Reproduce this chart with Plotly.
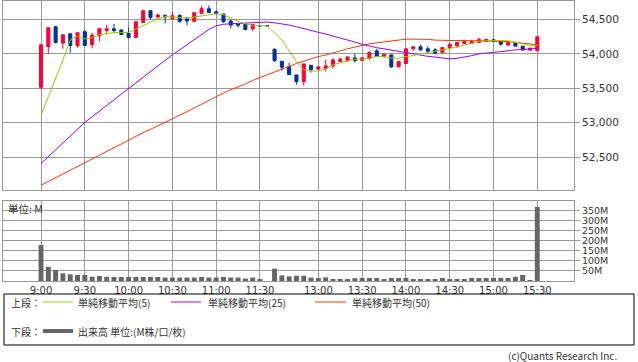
import plotly.graph_objects as go

# ---------------- data ----------------
tick_pos = [0, 6, 12, 18, 24, 30, 38, 44, 50, 56, 62, 68]
tick_labels = ["9:00", "9:30", "10:00", "10:30", "11:00", "11:30",
               "13:00", "13:30", "14:00", "14:30", "15:00", "15:30"]

opens = [53514, 54106, 54394, 54156, 54292, 54117, 54321, 54136, 54262, 54340,
         54365, 54346, 54296, 54238, 54456, 54627, 54535, 54558, 54510, 54558,
         54510, 54471, 54588, 54656, 54612, 54579, 54477, 54433, 54433, 54365,
         54408, 54410, 54068, 53893, 53815, 53694, 53596, 53835, 53781, 53786,
         53825, 53888, 53898, 53942, 53905, 53937, 54044, 53961, 53985, 53810,
         53859, 54073, 54102, 54073, 54058, 54019, 54092, 54117, 54150, 54150,
         54165, 54179, 54204, 54179, 54127, 54156, 54112, 54054, 54048]
highs = [54141, 54385, 54408, 54277, 54292, 54306, 54346, 54306, 54379, 54423,
         54437, 54360, 54383, 54467, 54641, 54627, 54583, 54573, 54608, 54578,
         54535, 54612, 54700, 54704, 54627, 54579, 54496, 54433, 54433, 54427,
         54408, 54410, 54077, 53893, 53873, 53694, 53854, 53835, 53825, 53913,
         53937, 53946, 53956, 54004, 53951, 54044, 54073, 53996, 53985, 53898,
         54073, 54112, 54131, 54107, 54083, 54092, 54141, 54165, 54204, 54204,
         54238, 54223, 54219, 54179, 54165, 54156, 54112, 54083, 54248]
lows = [53485, 53996, 54150, 54073, 54019, 54092, 54117, 54077, 54179, 54281,
        54302, 54273, 54223, 54238, 54456, 54496, 54525, 54442, 54496, 54456,
        54413, 54471, 54588, 54602, 54583, 54452, 54369, 54383, 54340, 54331,
        54408, 54406, 53883, 53757, 53698, 53552, 53538, 53727, 53757, 53742,
        53786, 53888, 53898, 53873, 53898, 53908, 53961, 53942, 53800, 53810,
        53859, 54044, 54044, 54010, 53996, 54019, 54092, 54083, 54150, 54150,
        54165, 54179, 54179, 54117, 54127, 54112, 54044, 54054, 54048]
closes = [54131, 54379, 54165, 54277, 54121, 54306, 54121, 54273, 54365, 54365,
          54340, 54281, 54238, 54467, 54627, 54529, 54564, 54535, 54554, 54471,
          54476, 54598, 54656, 54602, 54583, 54467, 54418, 54418, 54354, 54427,
          54408, 54406, 53902, 53806, 53698, 53596, 53854, 53771, 53810, 53825,
          53912, 53923, 53956, 53905, 53942, 54019, 53961, 53996, 53810, 53888,
          54073, 54102, 54058, 54039, 54010, 54092, 54141, 54165, 54179, 54179,
          54208, 54208, 54179, 54141, 54165, 54112, 54058, 54083, 54248]

ma5 = [53110, 53373, 53636, 53912, 54204, 54262, 54219, 54233, 54277, 54296,
       54310, 54310, 54310, 54360, 54412, 54467, 54510, 54544, 54535, 54520,
       54520, 54535, 54554, 54573, 54583, 54569, 54520, 54471, 54437, 54408,
       54408, 54408, 54302, 54204, 54044, 53883, 53767, 53748, 53752, 53781,
       53840, 53873, 53898, 53923, 53923, 53937, 53961, 53961, 53937, 53937,
       53956, 53981, 53996, 54010, 54036, 54058, 54077, 54102, 54131, 54156,
       54179, 54190, 54194, 54194, 54190, 54171, 54146, 54124, 54121]
ma25 = [52406, 52506, 52605, 52705, 52804, 52904, 53004, 53087, 53170, 53254,
        53335, 53418, 53500, 53582, 53662, 53743, 53824, 53905, 53985, 54061,
        54137, 54211, 54284, 54353, 54408, 54430, 54437, 54442, 54448, 54452,
        54459, 54462, 54452, 54437, 54418, 54394, 54365, 54335, 54313, 54289,
        54262, 54233, 54204, 54171, 54139, 54112, 54090, 54073, 54054, 54036,
        54019, 54000, 53978, 53964, 53953, 53942, 53927, 53934, 53952, 53974,
        54000, 54015, 54022, 54032, 54047, 54058, 54063, 54069, 54080]
ma50 = [52090, 52145, 52201, 52256, 52312, 52367, 52421, 52476, 52533, 52589,
        52644, 52701, 52756, 52806, 52855, 52904, 52953, 53003, 53052, 53106,
        53160, 53214, 53270, 53323, 53377, 53431, 53479, 53519, 53563, 53614,
        53653, 53694, 53742, 53774, 53818, 53861, 53898, 53934, 53961, 53983,
        54015, 54044, 54073, 54099, 54124, 54146, 54160, 54175, 54190, 54204,
        54214, 54214, 54214, 54211, 54200, 54194, 54194, 54194, 54194, 54194,
        54194, 54194, 54187, 54179, 54179, 54168, 54153, 54141, 54131]

volume_m = [178, 70, 54, 38, 33, 30, 30, 21, 25, 21,
            20, 20, 20, 20, 20, 20, 20, 17, 17, 17,
            17, 17, 20, 17, 17, 20, 17, 17, 12, 17,
            5, 0, 61, 28, 23, 26, 26, 17, 15, 18,
            10, 10, 10, 14, 15, 15, 15, 10, 15, 15,
            15, 10, 10, 10, 10, 15, 10, 10, 10, 15,
            15, 15, 15, 15, 15, 21, 30, 4, 367]

price_ticks = [52500, 53000, 53500, 54000, 54500]
vol_ticks = [50, 100, 150, 200, 250, 300, 350]

x = list(range(len(closes)))

# ---------------- geometry helpers (pixel -> paper) ----------------
W, H = 638, 362
ML, MR, MT, MB = 3, 64, 1, 81
PW, PH = W - ML - MR, H - MT - MB


def px(v):
    return (v - ML) / PW


def py(v):
    return (H - MB - v) / PH


GRID = "#999999"
TXT = "#333333"

fig = go.Figure()

fig.add_trace(go.Candlestick(
    x=x, open=opens, high=highs, low=lows, close=closes,
    increasing=dict(line=dict(color="#ff0033", width=1), fillcolor="#ff0033"),
    decreasing=dict(line=dict(color="#003399", width=1), fillcolor="#003399"),
    whiskerwidth=0, xaxis="x", yaxis="y", showlegend=False, hoverinfo="skip"))

fig.add_trace(go.Scatter(x=x, y=ma50, mode="lines", line=dict(color="#ff3300", width=1),
                         xaxis="x", yaxis="y", showlegend=False))
fig.add_trace(go.Scatter(x=x, y=ma25, mode="lines", line=dict(color="#9900ff", width=1),
                         xaxis="x", yaxis="y", showlegend=False))
fig.add_trace(go.Scatter(x=x, y=ma5, mode="lines", line=dict(color="#99cc00", width=1),
                         xaxis="x", yaxis="y", showlegend=False))

fig.add_trace(go.Bar(x=x, y=volume_m, width=0.68, marker=dict(color="#666666", line=dict(width=0)),
                     xaxis="x2", yaxis="y2", showlegend=False))

xr = [-5.21, 73.03]
axis_common = dict(showline=True, mirror=True, linecolor=GRID, linewidth=1,
                   showgrid=True, gridcolor=GRID, gridwidth=1, zeroline=False)

fig.update_layout(
    width=W, height=H,
    margin=dict(l=ML, r=MR, t=MT, b=MB),
    paper_bgcolor="white", plot_bgcolor="white",
    boxgap=0.4,
    showlegend=False,
    font=dict(family="DejaVu Sans", color=TXT, size=10),
    xaxis=dict(domain=[0, 1], range=xr, anchor="y", tickvals=tick_pos, ticktext=tick_labels,
               showticklabels=False, ticks="", rangeslider=dict(visible=False), **axis_common),
    yaxis=dict(domain=[py(190), 1], range=[52022, 54768], side="right", tickvals=price_ticks,
               ticktext=[f"{v:,}" for v in price_ticks], ticks="outside", ticklen=5,
               tickcolor=GRID, tickfont=dict(size=10.5, color=TXT), **axis_common),
    xaxis2=dict(domain=[0, 1], range=xr, anchor="y2", tickvals=tick_pos, ticktext=tick_labels,
                ticks="", tickfont=dict(size=10, color=TXT), **axis_common),
    yaxis2=dict(domain=[0, py(201)], range=[0, 396], side="right", tickvals=vol_ticks,
                ticktext=[f"{v}M" for v in vol_ticks], ticks="outside", ticklen=5,
                tickcolor=GRID, tickfont=dict(size=9.5, color=TXT), **axis_common),
)

CJK = "Noto Sans CJK JP"
ann = []
shapes = []


def text(xp, yp, s, anchor="left", size=10):
    ann.append(dict(x=px(xp), y=py(yp), xref="paper", yref="paper", text=s, showarrow=False,
                    xanchor=anchor, yanchor="middle", borderpad=0,
                    font=dict(family=CJK, size=size, color=TXT)))


def hline(x0, x1, yv, color, width):
    shapes.append(dict(type="line", xref="paper", yref="paper", x0=px(x0), x1=px(x1),
                       y0=py(yv), y1=py(yv), line=dict(color=color, width=width)))


text(7, 208, "単位: M", size=10.5)

# legend box
shapes.append(dict(type="rect", xref="paper", yref="paper", x0=px(4), x1=px(634),
                   y0=py(294), y1=py(345), line=dict(color="#000000", width=1)))
text(10, 302, "上段：")
hline(43, 73, 302, "#99cc00", 1)
text(77, 302, "単純移動平均(5)")
hline(171, 201, 302, "#9900ff", 1)
text(207, 302, "単純移動平均(25)")
hline(315, 346, 302, "#ff3300", 1)
text(351, 302, "単純移動平均(50)")
text(10, 331, "下段：")
hline(43, 73, 331, "#666666", 4)
text(77, 331, "出来高 単位:(M株/口/枚)")
text(618, 355, "(c)Quants Research Inc.", anchor="right")

fig.update_layout(annotations=ann, shapes=shapes)

fig.write_html("out.html", config={"displayModeBar": False},
               post_script="document.body.style.margin='0px';")
